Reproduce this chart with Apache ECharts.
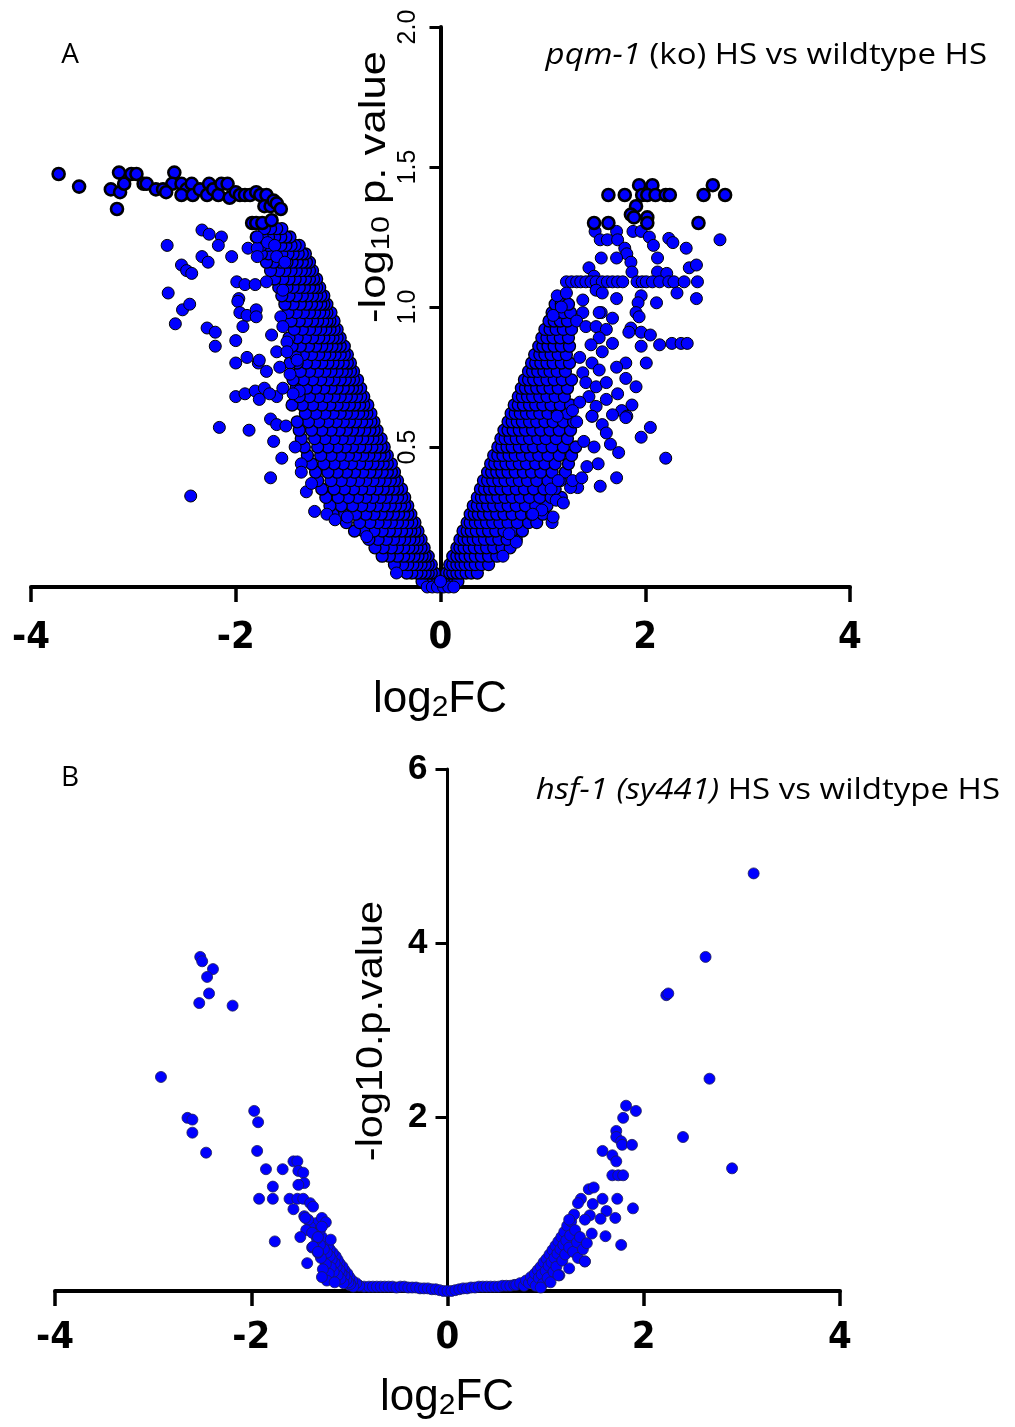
<!DOCTYPE html>
<html>
<head>
<meta charset="utf-8">
<script src="https://cdn.jsdelivr.net/npm/echarts@6/dist/echarts.min.js"></script>
<style>
html,body{margin:0;padding:0;background:#fff;}
#c{width:1015px;height:1427px;}
</style>
</head>
<body>
<div id="c"></div>
<script>
// ---------------- Panel A data (log2FC, -log10 p) ----------------
const aTopLeft = [[-3.73,1.475],[-3.53,1.43],[-3.22,1.42],[-3.14,1.48],[-3.13,1.41],[-3.09,1.44],[-3.16,1.35],[-3.02,1.475],[-2.97,1.475],[-2.9,1.44],[-2.87,1.44],[-2.78,1.42],[-2.60,1.48],[-2.62,1.44],[-2.71,1.42],[-2.68,1.41],[-2.53,1.44],[-2.48,1.42],[-2.43,1.44],[-2.53,1.40],[-2.42,1.40],[-2.35,1.42],[-2.28,1.40],[-2.26,1.44],[-2.22,1.42],[-2.17,1.40],[-2.14,1.44],[-2.08,1.44],[-2.06,1.39],[-2.0,1.41],[-1.96,1.40],[-1.91,1.40],[-1.86,1.40],[-1.8,1.41],[-1.76,1.40],[-1.70,1.40],[-1.72,1.36],[-1.66,1.36],[-1.63,1.38],[-1.6,1.37],[-1.56,1.35],[-1.84,1.30],[-1.80,1.30],[-1.74,1.30],[-1.65,1.31]];
const aTopRight = [[1.64,1.40],[1.80,1.40],[1.94,1.435],[1.97,1.40],[2.07,1.435],[2.02,1.40],[2.10,1.40],[2.20,1.40],[2.24,1.40],[2.57,1.40],[2.66,1.435],[2.78,1.40],[1.91,1.36],[1.86,1.33],[1.89,1.32],[2.02,1.32],[2.02,1.30],[1.50,1.30],[1.64,1.30],[2.52,1.30]];
const aScatterLeft = [[-2.33,1.275],[-2.26,1.26],[-2.14,1.25],[-2.17,1.22],[-2.67,1.22],[-2.33,1.18],[-2.27,1.16],[-2.04,1.18],[-1.88,1.21],[-1.79,1.21],[-1.79,1.18],[-2.53,1.15],[-2.48,1.13],[-2.43,1.12],[-2.66,1.05],[-1.99,1.09],[-1.91,1.08],[-1.81,1.08],[-1.70,1.09],[-1.97,1.03],[-2.52,0.99],[-2.45,1.01],[-2.59,0.94],[-2.28,0.925],[-2.20,0.91],[-2.20,0.86],[-1.98,1.02],[-1.96,0.98],[-1.89,0.97],[-1.80,0.99],[-1.80,0.965],[-1.93,0.93],[-2.00,0.88],[-1.65,0.90],[-1.56,0.965],[-2.00,0.80],[-1.89,0.82],[-1.78,0.80],[-1.70,0.77],[-2.00,0.68],[-1.91,0.69],[-1.81,0.70],[-1.77,0.67],[-1.72,0.71],[-1.60,0.68],[-2.16,0.57],[-1.87,0.56],[-1.66,0.60],[-1.60,0.58],[-1.51,0.575],[-1.63,0.52],[-1.55,0.46],[-1.66,0.39],[-2.44,0.325],[-1.42,0.50],[-1.36,0.44],[-1.36,0.41],[-1.31,0.34],[-1.26,0.37],[-1.23,0.27],[-1.11,0.26],[-1.03,0.24],[-0.91,0.25],[-0.72,0.18],[-0.43,0.05],[-1.79,1.25],[-1.69,1.23],[-1.62,1.22],[-1.60,1.18],[-1.52,1.16],[-1.54,1.06],[-1.54,0.93],[-1.50,0.875],[-1.60,0.84],[-1.50,0.84],[-1.40,0.81],[-1.77,0.81],[-1.57,0.785],[-1.47,0.76],[-1.38,0.70],[-1.54,0.71],[-1.67,0.69],[-1.44,0.69]];
const aScatterRight = [[2.73,1.24],[1.51,1.27],[1.56,1.24],[1.63,1.24],[1.72,1.27],[1.73,1.24],[1.88,1.27],[1.96,1.27],[2.04,1.25],[2.08,1.22],[2.23,1.245],[2.27,1.23],[2.40,1.21],[1.80,1.21],[1.82,1.19],[1.57,1.175],[1.72,1.175],[1.86,1.16],[2.12,1.175],[2.43,1.14],[2.50,1.15],[1.45,1.14],[1.50,1.11],[1.87,1.125],[2.12,1.125],[2.21,1.12],
[1.23,1.09],[1.28,1.09],[1.33,1.09],[1.37,1.09],[1.42,1.09],[1.47,1.09],[1.52,1.09],[1.58,1.09],[1.63,1.09],[1.68,1.09],[1.73,1.09],[1.78,1.09],[1.92,1.09],[1.97,1.09],[2.01,1.09],[2.07,1.09],[2.14,1.09],[2.23,1.09],[2.28,1.09],[2.38,1.09],[2.51,1.09],
[1.14,1.04],[1.23,1.05],[1.39,1.025],[1.52,1.06],[1.58,1.05],[1.72,1.03],[1.96,1.04],[2.11,1.015],[2.31,1.05],[2.50,1.03],[1.93,1.015],[1.91,0.98],[1.94,0.965],[1.57,0.98],[1.10,0.97],[1.18,1.00],[1.86,0.925],[1.96,0.91],[2.05,0.90],[2.14,0.865],[2.26,0.87],[2.35,0.87],[2.41,0.87],[1.96,0.86],[2.01,0.80],[1.68,0.87],[1.81,0.80],[1.72,0.785],[1.81,0.745],[1.91,0.715],[1.73,0.69],[1.87,0.65],[1.77,0.63],[2.05,0.57],[1.96,0.535],[2.20,0.46],[1.72,0.39],[1.56,0.36],[1.54,0.44],[1.43,0.43],[1.74,0.48],[1.66,0.51],[1.82,0.61],[1.33,0.59],[1.48,0.61],[1.34,0.355],[1.27,0.355],[1.09,0.23],[1.10,0.25],[0.61,0.11],[1.84,0.91],
[1.55,0.98],[1.39,0.98],[1.33,0.95],[1.42,0.93],[1.52,0.93],[1.62,0.92],[1.55,0.89],[1.47,0.865],[1.58,0.84],[1.36,0.82],[1.48,0.80],[1.55,0.775],[1.39,0.765],[1.42,0.73],[1.52,0.715],[1.62,0.73],[1.45,0.68],[1.62,0.67],[1.52,0.645],[1.68,0.615],[1.48,0.61],[1.36,0.66],[1.81,0.605],[1.58,0.58],[1.29,0.63],[1.14,0.61],[1.68,0.96],
[1.08,0.35],[1.29,0.38],[1.38,0.39],[1.13,0.31],[0.99,0.275],[0.90,0.26],[0.74,0.16],[0.67,0.19],[1.62,0.55],[1.50,0.50],[1.40,0.52],[1.20,0.30],[1.15,0.38]];
// dense V, one y level per row with the x positions read along it
const aBandLeftY = [0.02,0.05,0.08,0.11,0.14,0.17,0.20,0.23,0.26,0.29,0.32,0.35,0.38,0.41,0.44,0.47,0.50,0.53,0.56,0.59,0.62,0.65,0.68,0.71,0.74,0.77,0.80,0.83,0.86,0.89,0.92,0.95,0.98,1.01,1.04,1.07,1.10,1.13,1.16,1.19,1.22,1.25,1.28];
const aBandLeftX = [
[-0.02,-0.05,-0.08,-0.11,-0.14,-0.18],
[-0.06,-0.09,-0.12,-0.15,-0.19,-0.23,-0.28,-0.33],
[-0.09,-0.12,-0.15,-0.19,-0.23,-0.27,-0.32,-0.37,-0.45],
[-0.12,-0.15,-0.18,-0.22,-0.26,-0.31,-0.36,-0.42,-0.5,-0.57],
[-0.16,-0.19,-0.23,-0.27,-0.31,-0.36,-0.42,-0.48,-0.56,-0.64],
[-0.19,-0.22,-0.26,-0.30,-0.35,-0.40,-0.46,-0.53,-0.61,-0.7],
[-0.22,-0.25,-0.29,-0.33,-0.38,-0.44,-0.5,-0.57,-0.65,-0.75,-0.84],
[-0.25,-0.28,-0.32,-0.37,-0.42,-0.48,-0.54,-0.61,-0.69,-0.79,-0.92],
[-0.29,-0.32,-0.36,-0.41,-0.46,-0.52,-0.58,-0.65,-0.73,-0.83,-0.95,-1.05],
[-0.32,-0.35,-0.39,-0.44,-0.49,-0.55,-0.62,-0.69,-0.77,-0.86,-0.97,-1.08],
[-0.35,-0.38,-0.42,-0.47,-0.53,-0.59,-0.66,-0.73,-0.81,-0.9,-1.0,-1.12],
[-0.38,-0.42,-0.46,-0.51,-0.56,-0.62,-0.69,-0.77,-0.85,-0.94,-1.04,-1.16],
[-0.42,-0.45,-0.49,-0.54,-0.6,-0.66,-0.73,-0.8,-0.88,-0.97,-1.07,-1.2],
[-0.45,-0.48,-0.52,-0.57,-0.63,-0.69,-0.76,-0.84,-0.92,-1.01,-1.1,-1.22],
[-0.48,-0.52,-0.56,-0.61,-0.66,-0.72,-0.79,-0.87,-0.95,-1.04,-1.14,-1.26],
[-0.52,-0.55,-0.59,-0.64,-0.7,-0.76,-0.83,-0.9,-0.98,-1.07,-1.17,-1.3],
[-0.55,-0.58,-0.62,-0.67,-0.73,-0.79,-0.86,-0.93,-1.01,-1.1,-1.2,-1.33],
[-0.58,-0.62,-0.66,-0.71,-0.76,-0.82,-0.89,-0.96,-1.04,-1.13,-1.23,-1.36],
[-0.62,-0.65,-0.69,-0.74,-0.8,-0.86,-0.92,-0.99,-1.07,-1.16,-1.26,-1.38],
[-0.65,-0.68,-0.72,-0.77,-0.83,-0.89,-0.95,-1.02,-1.1,-1.19,-1.29,-1.4],
[-0.68,-0.72,-0.76,-0.8,-0.86,-0.92,-0.98,-1.05,-1.13,-1.22,-1.32],
[-0.71,-0.75,-0.79,-0.84,-0.89,-0.95,-1.01,-1.08,-1.16,-1.25,-1.35,-1.45],
[-0.75,-0.78,-0.82,-0.87,-0.92,-0.98,-1.04,-1.11,-1.19,-1.28,-1.38],
[-0.78,-0.82,-0.86,-0.9,-0.95,-1.01,-1.07,-1.14,-1.22,-1.31,-1.41],
[-0.81,-0.85,-0.89,-0.93,-0.98,-1.04,-1.1,-1.17,-1.25,-1.34,-1.44],
[-0.85,-0.88,-0.92,-0.96,-1.01,-1.07,-1.13,-1.2,-1.28,-1.37],
[-0.88,-0.91,-0.95,-1.0,-1.05,-1.1,-1.16,-1.23,-1.31,-1.4,-1.47],
[-0.91,-0.94,-0.98,-1.03,-1.08,-1.13,-1.19,-1.26,-1.34,-1.42],
[-0.94,-0.98,-1.02,-1.06,-1.11,-1.16,-1.22,-1.29,-1.37,-1.45],
[-0.98,-1.01,-1.05,-1.09,-1.14,-1.19,-1.25,-1.32,-1.4,-1.48],
[-1.01,-1.04,-1.08,-1.12,-1.17,-1.22,-1.28,-1.35,-1.43],
[-1.04,-1.08,-1.11,-1.15,-1.2,-1.25,-1.31,-1.38,-1.46],
[-1.07,-1.11,-1.14,-1.18,-1.23,-1.28,-1.34,-1.41,-1.49],
[-1.11,-1.14,-1.17,-1.21,-1.26,-1.31,-1.37,-1.44,-1.52],
[-1.14,-1.17,-1.21,-1.25,-1.3,-1.35,-1.41,-1.48,-1.55],
[-1.18,-1.21,-1.24,-1.28,-1.33,-1.38,-1.44,-1.5,-1.58],
[-1.21,-1.24,-1.28,-1.32,-1.37,-1.42,-1.48,-1.54,-1.62],
[-1.25,-1.28,-1.32,-1.36,-1.41,-1.46,-1.52,-1.58,-1.66],
[-1.28,-1.31,-1.35,-1.4,-1.45,-1.5,-1.56,-1.63,-1.7],
[-1.32,-1.35,-1.39,-1.44,-1.49,-1.55,-1.61,-1.68,-1.75],
[-1.38,-1.42,-1.46,-1.51,-1.56,-1.62,-1.68,-1.75],
[-1.47,-1.51,-1.56,-1.62,-1.68,-1.74,-1.8],
[-1.55,-1.6,-1.66,-1.72]];
const aBandRightY = [0.02,0.05,0.08,0.11,0.14,0.17,0.20,0.23,0.26,0.29,0.32,0.35,0.38,0.41,0.44,0.47,0.50,0.53,0.56,0.59,0.62,0.65,0.68,0.71,0.74,0.77,0.80,0.83,0.86,0.89,0.92,0.95,0.98,1.01];
const aBandRightX = [
[0.02,0.05,0.08,0.11,0.14,0.17],
[0.06,0.09,0.12,0.16,0.2,0.25,0.3,0.36],
[0.09,0.12,0.16,0.2,0.24,0.29,0.34,0.4,0.47],
[0.12,0.16,0.2,0.24,0.29,0.34,0.4,0.47,0.55],
[0.16,0.19,0.23,0.28,0.33,0.39,0.45,0.52,0.6,0.68],
[0.19,0.23,0.27,0.32,0.37,0.43,0.5,0.57,0.65,0.74],
[0.22,0.26,0.3,0.35,0.41,0.47,0.54,0.62,0.7,0.8],
[0.26,0.29,0.34,0.39,0.45,0.51,0.58,0.66,0.75,0.86,0.94],
[0.29,0.33,0.37,0.42,0.48,0.55,0.62,0.7,0.79,0.89,1.0],
[0.32,0.36,0.41,0.46,0.52,0.59,0.66,0.74,0.83,0.93,1.04],
[0.36,0.4,0.44,0.5,0.56,0.63,0.7,0.78,0.87,0.97,1.08,1.18],
[0.39,0.43,0.48,0.53,0.59,0.66,0.74,0.82,0.91,1.01,1.12],
[0.42,0.46,0.51,0.57,0.63,0.7,0.77,0.85,0.94,1.05,1.17],
[0.46,0.5,0.55,0.6,0.66,0.73,0.81,0.89,0.98,1.09,1.22],
[0.49,0.53,0.58,0.64,0.7,0.77,0.84,0.93,1.02,1.12,1.25],
[0.52,0.56,0.61,0.67,0.73,0.8,0.88,0.96,1.05,1.16,1.28],
[0.56,0.6,0.65,0.7,0.77,0.84,0.91,1.0,1.09,1.2,1.32],
[0.59,0.63,0.68,0.74,0.8,0.87,0.95,1.03,1.13,1.24],
[0.62,0.66,0.71,0.77,0.83,0.9,0.98,1.07,1.16,1.27],
[0.66,0.7,0.75,0.8,0.87,0.94,1.02,1.1,1.2,1.3],
[0.69,0.73,0.78,0.84,0.9,0.97,1.05,1.14,1.24],
[0.72,0.76,0.81,0.87,0.93,1.0,1.08,1.17,1.27],
[0.76,0.8,0.85,0.9,0.97,1.04,1.12,1.21],
[0.79,0.83,0.88,0.94,1.0,1.07,1.15,1.24],
[0.82,0.86,0.91,0.97,1.04,1.11,1.19,1.28],
[0.86,0.9,0.95,1.01,1.07,1.14,1.22],
[0.89,0.93,0.98,1.04,1.1,1.18,1.26],
[0.92,0.97,1.02,1.08,1.15,1.23],
[0.96,1.0,1.05,1.11,1.18,1.26],
[0.99,1.04,1.1,1.17,1.25],
[1.02,1.07,1.13,1.2,1.28],
[1.06,1.11,1.17,1.24],
[1.09,1.14,1.2,1.27],
[1.12,1.18,1.25]];
const aOrigin = [[-0.13,0.0],[-0.08,0.0],[-0.03,0.0],[0.03,0.0],[0.08,0.0],[0.13,0.0],[0.0,0.02]];

// ---------------- Panel B data ----------------
const bOuterLeft = [[-2.52,3.84],[-2.50,3.79],[-2.39,3.70],[-2.45,3.61],[-2.43,3.42],[-2.53,3.31],[-2.19,3.28],[-2.92,2.46],[-2.65,1.99],[-2.60,1.97],[-2.60,1.82],[-2.46,1.59],[-1.97,2.07],[-1.93,1.94],[-1.94,1.61],[-1.85,1.40],[-1.68,1.40],[-1.78,1.20],[-1.92,1.06],[-1.78,1.06],[-1.76,0.57],[-1.57,1.49],[-1.53,1.49],[-1.52,1.38],[-1.47,1.36],[-1.46,1.24],[-1.52,1.22],[-1.61,1.06],[-1.53,1.06],[-1.57,0.94],[-1.47,1.06],[-1.40,1.01],[-1.37,0.97],[-1.46,0.86],[-1.45,0.84],[-1.28,0.84],[-1.24,0.79],[-1.28,0.74],[-1.38,0.67],[-1.50,0.62],[-1.32,0.62],[-1.19,0.59],[-1.37,0.51],[-1.32,0.45],[-1.43,0.32]];
const bOuterRight = [[3.12,4.80],[2.63,3.84],[2.23,3.40],[2.25,3.42],[2.67,2.44],[2.40,1.77],[2.90,1.41],[1.82,2.13],[1.92,2.07],[1.79,1.99],[1.72,1.84],[1.72,1.77],[1.77,1.72],[1.78,1.68],[1.88,1.68],[1.58,1.61],[1.68,1.56],[1.72,1.49],[1.68,1.33],[1.74,1.33],[1.79,1.33],[1.44,1.17],[1.49,1.19],[1.36,1.06],[1.33,1.01],[1.48,1.00],[1.58,1.06],[1.73,1.06],[1.89,0.95],[1.62,0.92],[1.29,0.88],[1.45,0.87],[1.24,0.82],[1.40,0.82],[1.56,0.83],[1.71,0.84],[1.47,0.66],[1.61,0.63],[1.77,0.53],[1.40,0.34],[1.24,0.26],[1.13,0.18]];
const bDenseLeft = [[-0.9,0.06],[-0.93,0.09],[-0.96,0.05],[-0.97,0.12],[-0.99,0.08],[-1.0,0.16],[-1.01,0.1],[-1.02,0.2],[-1.03,0.13],[-1.05,0.24],[-1.05,0.17],[-1.06,0.09],[-1.07,0.28],[-1.08,0.2],[-1.09,0.14],[-1.1,0.32],[-1.1,0.24],[-1.12,0.36],[-1.12,0.18],[-1.13,0.28],[-1.14,0.4],[-1.15,0.32],[-1.16,0.22],[-1.17,0.44],[-1.18,0.36],[-1.19,0.27],[-1.2,0.48],[-1.2,0.4],[-1.21,0.2],[-1.22,0.52],[-1.23,0.44],[-1.24,0.31],[-1.25,0.57],[-1.26,0.48],[-1.27,0.25],[-1.28,0.62],[-1.29,0.38],[-1.3,0.53],[-1.3,0.7],[-1.32,0.44],[-1.33,0.6],[-1.34,0.78],[-1.36,0.66],[-1.38,0.5],[-1.4,0.74],[-1.42,0.82],[-1.44,0.7],[-1.23,0.12],[-1.15,0.1],[-1.28,0.16]];
const bFlat = [[-1.0,0.07],[-0.95,0.06],[-0.9,0.06],[-0.85,0.05],[-0.8,0.05],[-0.76,0.05],[-0.72,0.05],[-0.68,0.05],[-0.64,0.05],[-0.6,0.05],[-0.56,0.05],[-0.52,0.04],[-0.48,0.05],[-0.44,0.05],[-0.4,0.04],[-0.36,0.04],[-0.32,0.04],[-0.28,0.03],[-0.24,0.03],[-0.2,0.03],[-0.16,0.02],[-0.12,0.02],[-0.08,0.01],[-0.04,0.0],[0,0.0],[0.04,0.0],[0.08,0.01],[0.12,0.02],[0.16,0.03],[0.2,0.03],[0.24,0.04],[0.28,0.04],[0.32,0.05],[0.36,0.05],[0.4,0.05],[0.44,0.05],[0.48,0.05],[0.52,0.05],[0.56,0.06],[0.6,0.06],[0.64,0.06],[0.68,0.07]];
const bDenseRight = [[0.7,0.07],[0.74,0.09],[0.78,0.06],[0.8,0.12],[0.83,0.09],[0.85,0.16],[0.87,0.11],[0.89,0.2],[0.9,0.06],[0.92,0.24],[0.93,0.15],[0.95,0.28],[0.96,0.19],[0.97,0.08],[0.98,0.33],[1.0,0.23],[1.01,0.37],[1.02,0.15],[1.03,0.29],[1.04,0.42],[1.06,0.33],[1.07,0.47],[1.08,0.22],[1.09,0.38],[1.1,0.52],[1.11,0.28],[1.12,0.43],[1.13,0.57],[1.14,0.18],[1.15,0.48],[1.16,0.62],[1.17,0.35],[1.18,0.53],[1.19,0.68],[1.2,0.42],[1.21,0.58],[1.22,0.75],[1.24,0.5],[1.25,0.64],[1.26,0.8],[1.28,0.45],[1.3,0.7],[1.32,0.56],[1.33,0.38],[1.35,0.62],[1.38,0.48],[1.4,0.34],[1.42,0.55],[0.95,0.04],[1.05,0.1]];

// axis ticks: min, max, interval
const aXTicks = [-4, 4, 2];
const aYTicks = [0, 2, 0.5];
const bXTicks = [-4, 4, 2];
const bYTicks = [0, 6, 2];

function rows(ys, xs){ const out=[]; ys.forEach((y,i)=>xs[i].forEach(x=>out.push([x,y]))); return out; }

const chart = echarts.init(document.getElementById('c'), null, {renderer:'canvas'});
const AX = 'Liberation Sans, Arial, sans-serif';
const NARROW = '"Liberation Sans Narrow", "Arial Narrow", "DejaVu Sans Condensed", "Liberation Sans", sans-serif';
const TF = '"Open Sans", "Noto Sans", sans-serif';

const GA = {left:31, right:165, top:27, bottom:840};
const GB = {left:55, right:175, top:769, bottom:136};
const W = 1015;
const aZeroOffset = -((W - GA.left - GA.right) / 2);
const bZeroOffset = -((W - GB.left - GB.right) / 2);

function xAxisCfg(idx, t, fs, margin){
  return {gridIndex:idx, type:'value', min:t[0], max:t[1], interval:t[2],
    axisLine:{onZero:false, lineStyle:{color:'#000', width:4}},
    axisTick:{show:true, length:15, lineStyle:{color:'#000', width:3.5}},
    axisLabel:{color:'#000', fontFamily:NARROW, fontWeight:'bold', fontSize:fs, margin:margin},
    splitLine:{show:false}};
}
const aBandStyle = {color:'#0000ff', borderColor:'#000', borderWidth:1.3, opacity:1};
const aStyle = {color:'#0000ff', borderColor:'#000', borderWidth:1, opacity:1};
const aTopStyle = {color:'#0000ff', borderColor:'#000', borderWidth:2.6, opacity:1};
const bStyle = {color:'#0000ff', borderColor:'#1b1b55', borderWidth:0.8, opacity:1};

const option = {
  animation:false,
  backgroundColor:'#fff',
  grid:[GA, GB],
  xAxis:[xAxisCfg(0,aXTicks,38,32), xAxisCfg(1,bXTicks,38,28)],
  yAxis:[
    {gridIndex:0, type:'value', position:'left', offset:aZeroOffset, min:aYTicks[0], max:aYTicks[1], interval:aYTicks[2],
     axisLine:{show:true, onZero:false, lineStyle:{color:'#000', width:4}},
     axisTick:{show:true, length:11, lineStyle:{color:'#000', width:3}},
     axisLabel:{color:'#000', fontFamily:AX, fontSize:25, rotate:90, margin:20,
       formatter:v=> v===0 ? '' : v.toFixed(1)},
     splitLine:{show:false}},
    {gridIndex:1, type:'value', position:'left', offset:bZeroOffset, min:bYTicks[0], max:bYTicks[1], interval:bYTicks[2],
     axisLine:{show:true, onZero:false, lineStyle:{color:'#000', width:3}},
     axisTick:{show:true, length:12, lineStyle:{color:'#000', width:3}},
     axisLabel:{color:'#000', fontFamily:AX, fontWeight:'bold', fontSize:35, margin:20,
       formatter:v=> v===0 ? '' : String(v)},
     splitLine:{show:false}}
  ],
  series:[
    {type:'scatter', xAxisIndex:0, yAxisIndex:0, symbolSize:12, itemStyle:aBandStyle, data:rows(aBandLeftY,aBandLeftX)},
    {type:'scatter', xAxisIndex:0, yAxisIndex:0, symbolSize:12, itemStyle:aBandStyle, data:rows(aBandRightY,aBandRightX)},
    {type:'scatter', xAxisIndex:0, yAxisIndex:0, symbolSize:12, itemStyle:aStyle, data:aScatterLeft.concat(aScatterRight).concat(aOrigin)},
    {type:'scatter', xAxisIndex:0, yAxisIndex:0, symbolSize:12, itemStyle:aTopStyle, data:aTopLeft.concat(aTopRight)},
    {type:'scatter', xAxisIndex:1, yAxisIndex:1, symbolSize:11, itemStyle:bStyle, data:bFlat.concat(bDenseLeft).concat(bDenseRight)},
    {type:'scatter', xAxisIndex:1, yAxisIndex:1, symbolSize:11, itemStyle:bStyle, data:bOuterLeft.concat(bOuterRight)}
  ],
  graphic:[
    {type:'text', x:70, y:55, style:{text:'A', font:'28px '+TF, fill:'#000', align:'center', verticalAlign:'middle'}},
    {type:'text', x:987, y:55, scaleX:1.1, style:{text:'{i|pqm-1} (ko) HS vs wildtype HS', fill:'#000', font:'30px '+TF, align:'right', verticalAlign:'middle',
       rich:{i:{fontStyle:'italic', fontSize:30, fontFamily:TF}}}},
    {type:'text', x:375, y:187, rotation:Math.PI/2, scaleX:1.18, style:{text:'-log{s|10} p. value', fill:'#000', font:'37px '+AX, align:'center', verticalAlign:'middle',
       rich:{s:{fontSize:26, fontFamily:AX, verticalAlign:'bottom', padding:[13,0,0,0]}}}},
    {type:'text', x:440, y:700, style:{text:'log{s|2}FC', fill:'#000', font:'44px '+AX, align:'center', verticalAlign:'middle',
       rich:{s:{fontSize:30, fontFamily:AX, verticalAlign:'bottom', padding:[16,0,0,0]}}}},
    {type:'text', x:70, y:778, style:{text:'B', font:'28px '+TF, fill:'#000', align:'center', verticalAlign:'middle'}},
    {type:'text', x:1000, y:790, scaleX:1.1, style:{text:'{i|hsf-1 (sy441)} HS vs wildtype HS', fill:'#000', font:'30px '+TF, align:'right', verticalAlign:'middle',
       rich:{i:{fontStyle:'italic', fontSize:30, fontFamily:TF}}}},
    {type:'text', x:372, y:1031, rotation:Math.PI/2, scaleX:1.12, style:{text:'-log10.p.value', fill:'#000', font:'37px '+AX, align:'center', verticalAlign:'middle'}},
    {type:'text', x:447, y:1398, style:{text:'log{s|2}FC', fill:'#000', font:'44px '+AX, align:'center', verticalAlign:'middle',
       rich:{s:{fontSize:30, fontFamily:AX, verticalAlign:'bottom', padding:[16,0,0,0]}}}}
  ]
};
chart.setOption(option);
</script>
</body>
</html>
